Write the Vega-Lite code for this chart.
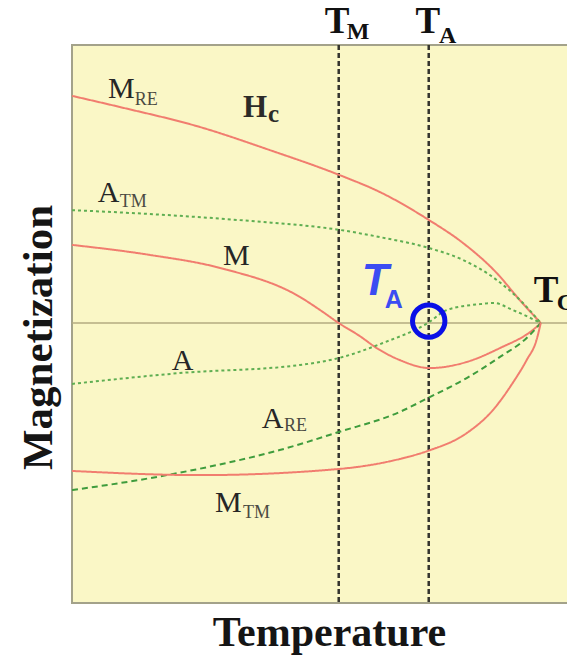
{
  "$schema": "https://vega.github.io/schema/vega-lite/v6.json",
  "autosize": "none",
  "padding": {"left": 72, "top": 45, "right": 0, "bottom": 56},
  "width": 525,
  "height": 558,
  "background": "white",
  "config": {
    "view": {"fill": "#faf7c6", "stroke": "#a3a28a", "strokeWidth": 2},
    "text": {"font": "Liberation Serif", "align": "left", "baseline": "alphabetic", "color": "#262626"}
  },
  "datasets": {
    "curves": [
      {"curve": "M_RE", "t": 0, "m": 0.817}, {"curve": "M_RE", "t": 0.102, "m": 0.777}, {"curve": "M_RE", "t": 0.273, "m": 0.705},
      {"curve": "M_RE", "t": 0.422, "m": 0.622}, {"curve": "M_RE", "t": 0.571, "m": 0.532}, {"curve": "M_RE", "t": 0.657, "m": 0.471},
      {"curve": "M_RE", "t": 0.761, "m": 0.371}, {"curve": "M_RE", "t": 0.834, "m": 0.288}, {"curve": "M_RE", "t": 0.906, "m": 0.18},
      {"curve": "M_RE", "t": 0.955, "m": 0.083}, {"curve": "M_RE", "t": 1, "m": 0},

      {"curve": "A_TM", "t": 0, "m": 0.406}, {"curve": "A_TM", "t": 0.166, "m": 0.392}, {"curve": "A_TM", "t": 0.38, "m": 0.367},
      {"curve": "A_TM", "t": 0.571, "m": 0.335}, {"curve": "A_TM", "t": 0.657, "m": 0.309}, {"curve": "A_TM", "t": 0.761, "m": 0.27},
      {"curve": "A_TM", "t": 0.834, "m": 0.227}, {"curve": "A_TM", "t": 0.906, "m": 0.155}, {"curve": "A_TM", "t": 0.962, "m": 0.072},
      {"curve": "A_TM", "t": 1, "m": 0},

      {"curve": "M", "t": 0, "m": 0.281}, {"curve": "M", "t": 0.166, "m": 0.245}, {"curve": "M", "t": 0.316, "m": 0.198},
      {"curve": "M", "t": 0.486, "m": 0.094}, {"curve": "M", "t": 0.529, "m": 0.047}, {"curve": "M", "t": 0.569, "m": 0},
      {"curve": "M", "t": 0.614, "m": -0.047}, {"curve": "M", "t": 0.65, "m": -0.09}, {"curve": "M", "t": 0.699, "m": -0.133},
      {"curve": "M", "t": 0.763, "m": -0.162}, {"curve": "M", "t": 0.842, "m": -0.14}, {"curve": "M", "t": 0.913, "m": -0.09},
      {"curve": "M", "t": 0.983, "m": -0.025}, {"curve": "M", "t": 1, "m": 0},

      {"curve": "A", "t": 0, "m": -0.219}, {"curve": "A", "t": 0.23, "m": -0.18}, {"curve": "A", "t": 0.486, "m": -0.151},
      {"curve": "A", "t": 0.569, "m": -0.126}, {"curve": "A", "t": 0.663, "m": -0.072}, {"curve": "A", "t": 0.759, "m": 0},
      {"curve": "A", "t": 0.8, "m": 0.047}, {"curve": "A", "t": 0.87, "m": 0.068}, {"curve": "A", "t": 0.9, "m": 0.072},
      {"curve": "A", "t": 0.94, "m": 0.047}, {"curve": "A", "t": 1, "m": 0},

      {"curve": "A_RE", "t": 0, "m": -0.601}, {"curve": "A_RE", "t": 0.166, "m": -0.558}, {"curve": "A_RE", "t": 0.309, "m": -0.511},
      {"curve": "A_RE", "t": 0.443, "m": -0.457}, {"curve": "A_RE", "t": 0.569, "m": -0.392}, {"curve": "A_RE", "t": 0.699, "m": -0.32},
      {"curve": "A_RE", "t": 0.759, "m": -0.27}, {"curve": "A_RE", "t": 0.842, "m": -0.198}, {"curve": "A_RE", "t": 0.913, "m": -0.122},
      {"curve": "A_RE", "t": 0.97, "m": -0.054}, {"curve": "A_RE", "t": 1, "m": 0},

      {"curve": "M_TM", "t": 0, "m": -0.532}, {"curve": "M_TM", "t": 0.273, "m": -0.547}, {"curve": "M_TM", "t": 0.569, "m": -0.525},
      {"curve": "M_TM", "t": 0.699, "m": -0.489}, {"curve": "M_TM", "t": 0.759, "m": -0.46}, {"curve": "M_TM", "t": 0.842, "m": -0.396},
      {"curve": "M_TM", "t": 0.898, "m": -0.313}, {"curve": "M_TM", "t": 0.94, "m": -0.216}, {"curve": "M_TM", "t": 0.97, "m": -0.133},
      {"curve": "M_TM", "t": 0.991, "m": -0.061}, {"curve": "M_TM", "t": 1, "m": 0}
    ],
    "transitions": [{"name": "T_M", "t": 0.569}, {"name": "T_A", "t": 0.761}],
    "baseLabels": [
      {"t": 0.077, "m": 0.809, "label": "M"},
      {"t": 0.055, "m": 0.435, "label": "A"},
      {"t": 0.322, "m": 0.209, "label": "M"},
      {"t": 0.213, "m": -0.169, "label": "A"},
      {"t": 0.405, "m": -0.378, "label": "A"},
      {"t": 0.305, "m": -0.68, "label": "M"}
    ],
    "subLabels": [
      {"t": 0.134, "m": 0.784, "label": "RE"},
      {"t": 0.102, "m": 0.417, "label": "TM"},
      {"t": 0.452, "m": -0.388, "label": "RE"},
      {"t": 0.365, "m": -0.701, "label": "TM"}
    ],
    "tempLabels": [
      {"t": 0.539, "m": 1.043, "label": "T"},
      {"t": 0.733, "m": 1.043, "label": "T"},
      {"t": 0.985, "m": 0.076, "label": "T"}
    ],
    "tempSubs": [
      {"t": 0.586, "m": 1.022, "label": "M"},
      {"t": 0.783, "m": 1.007, "label": "A"},
      {"t": 1.034, "m": 0.047, "label": "C"}
    ]
  },
  "encoding": {
    "x": {"field": "t", "type": "quantitative", "scale": {"domain": [0, 1.12], "nice": false, "zero": false},
      "axis": {"title": "Temperature", "labels": false, "ticks": false, "domain": false, "grid": false,
        "titleFont": "Liberation Serif", "titleFontSize": 42, "titleFontWeight": "bold", "titleColor": "#151515",
        "titlePadding": 9, "titleX": 257}},
    "y": {"field": "m", "type": "quantitative", "scale": {"domain": [-1.007, 1], "nice": false, "zero": false},
      "axis": {"title": "Magnetization", "labels": false, "ticks": false, "domain": false, "grid": false,
        "titleFont": "Liberation Serif", "titleFontSize": 43, "titleFontWeight": "bold", "titleColor": "#151515",
        "titlePadding": 12, "titleY": 292}}
  },
  "layer": [
    {
      "data": {"values": [{"m": 0}]},
      "mark": {"type": "rule", "color": "#b3ab80", "strokeWidth": 1.5},
      "encoding": {"x": null, "y": {"field": "m", "type": "quantitative"}}
    },
    {
      "data": {"name": "transitions"},
      "mark": {"type": "rule", "color": "#34342e", "strokeWidth": 2.5, "strokeDash": [5, 3]},
      "encoding": {"y": null, "x": {"field": "t", "type": "quantitative"}}
    },
    {
      "data": {"name": "curves"},
      "mark": {"type": "line", "interpolate": "monotone"},
      "encoding": {
        "detail": {"field": "curve"},
        "order": {"field": "t", "type": "quantitative"},
        "color": {"field": "curve", "type": "nominal", "legend": null,
          "scale": {"domain": ["M_RE", "A_TM", "M", "A", "A_RE", "M_TM"],
            "range": ["#f17d6f", "#5fae52", "#f17d6f", "#5fae52", "#3f9c3d", "#f17d6f"]}},
        "strokeDash": {"field": "curve", "type": "nominal", "legend": null,
          "scale": {"domain": ["M_RE", "A_TM", "M", "A", "A_RE", "M_TM"],
            "range": [[1, 0], [3, 3], [1, 0], [3, 3], [6, 4], [1, 0]]}},
        "strokeWidth": {"field": "curve", "type": "nominal", "legend": null,
          "scale": {"domain": ["M_RE", "A_TM", "M", "A", "A_RE", "M_TM"],
            "range": [2, 2, 2, 2, 2.6, 2]}}
      }
    },
    {
      "data": {"name": "baseLabels"},
      "mark": {"type": "text", "fontSize": 30},
      "encoding": {"text": {"field": "label"}}
    },
    {
      "data": {"name": "subLabels"},
      "mark": {"type": "text", "fontSize": 18, "color": "#4a4a42"},
      "encoding": {"text": {"field": "label"}}
    },
    {
      "data": {"values": [{"t": 0.365, "m": 0.741, "label": "H"}]},
      "mark": {"type": "text", "fontSize": 31, "fontWeight": "bold", "color": "#2b2b28"},
      "encoding": {"text": {"field": "label"}}
    },
    {
      "data": {"values": [{"t": 0.418, "m": 0.723, "label": "c"}]},
      "mark": {"type": "text", "fontSize": 25, "fontWeight": "bold", "color": "#2b2b28"},
      "encoding": {"text": {"field": "label"}}
    },
    {
      "data": {"name": "tempLabels"},
      "mark": {"type": "text", "fontSize": 37, "fontWeight": "bold", "color": "#111111"},
      "encoding": {"text": {"field": "label"}}
    },
    {
      "data": {"name": "tempSubs"},
      "mark": {"type": "text", "fontSize": 24, "fontWeight": "bold", "color": "#111111"},
      "encoding": {"text": {"field": "label"}}
    },
    {
      "data": {"values": [{"t": 0.618, "m": 0.101, "label": "T"}]},
      "mark": {"type": "text", "font": "Liberation Sans", "fontSize": 44, "fontWeight": "bold", "fontStyle": "italic", "color": "#3b4cf2"},
      "encoding": {"text": {"field": "label"}}
    },
    {
      "data": {"values": [{"t": 0.667, "m": 0.054, "label": "A"}]},
      "mark": {"type": "text", "font": "Liberation Sans", "fontSize": 25, "fontWeight": "bold", "color": "#3b4cf2"},
      "encoding": {"text": {"field": "label"}}
    },
    {
      "data": {"values": [{"t": 0.761, "m": 0.007}]},
      "mark": {"type": "point", "shape": "circle", "size": 1050, "filled": false, "stroke": "#0a10e6", "strokeWidth": 5, "opacity": 1}
    }
  ]
}
